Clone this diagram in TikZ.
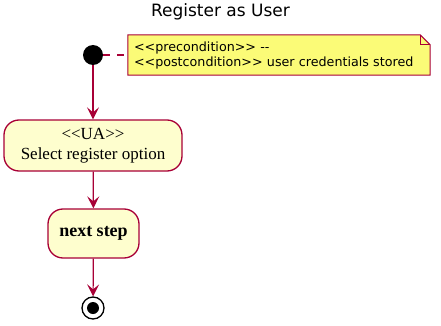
\documentclass[tikz,border=0pt]{standalone}
\usepackage{fontspec}
\setmainfont{Liberation Serif}[Ligatures=TeXOff]
\newfontfamily\sanslabel{DejaVu Sans}[Ligatures=TeXOff]
\usetikzlibrary{arrows.meta,calc,backgrounds}
\definecolor{border}{RGB}{168,0,54}
\definecolor{actfill}{RGB}{254,254,206}
\definecolor{notefill}{RGB}{251,251,119}
\tikzset{
  every picture/.style={x=1pt, y=-1pt},
  action/.style={draw=border, fill=actfill, line width=1.3pt, rounded corners=15pt, align=center, inner sep=0pt, font=\fontsize{17}{20}\selectfont},
  initial/.style={circle, fill=black, minimum size=20pt, inner sep=0pt},
  final/.style={circle, draw=black, line width=1.3pt, minimum size=22pt, inner sep=0pt},
  notebox/.style={minimum width=302pt, minimum height=40pt, text width=290pt, inner xsep=6pt, inner ysep=0pt, align=left, font=\sanslabel\fontsize{12.7}{15}\selectfont},
  flow/.style={-{Stealth[length=12pt,width=12pt,inset=5pt]}, draw=border, line width=1.2pt},
  link/.style={draw=border, line width=1.2pt, dash pattern=on 7pt off 7pt},
}

\begin{document}
\begin{tikzpicture}
  \useasboundingbox (0,0) rectangle (441,326);
  \node[anchor=base, font=\sanslabel\fontsize{17}{20}\selectfont] (title) at (220.5,17) {Register as User};

  \node[initial] (start) at (93,55) {};
  \node[notebox] (note) at (279,55) {<<precondition>> --\\<<postcondition>> user credentials stored};
  \begin{scope}[on background layer]
    % note sheet with the dog-ear
    \filldraw[draw=border, fill=notefill, line width=1pt] (note.north west) -- ($(note.north east)+(-10,0)$) -- ($(note.north east)+(0,10)$) -- (note.south east) -- (note.south west) -- cycle;
    \draw[border, line width=1pt] ($(note.north east)+(-10,0)$) -- ($(note.north east)+(-10,10)$) -- ($(note.north east)+(0,10)$);
  \end{scope}
  \draw[link] (start) -- (note);

  \node[action, minimum width=178pt, minimum height=51pt] (ua) at (93,145.5) {<<UA>>\\Select register option};
  \node[action, minimum width=91pt, minimum height=49pt, font=\fontsize{18}{20}\selectfont\bfseries] (next) at (93.5,233.5) {next step};
  \node[final] (stop) at (93,308) {};
  \fill[black] (stop.center) circle[radius=6pt];

  \draw[flow] (start) -- (ua);
  \draw[flow] (ua) -- (next);
  \draw[flow] (next) -- (stop);
\end{tikzpicture}
\end{document}
